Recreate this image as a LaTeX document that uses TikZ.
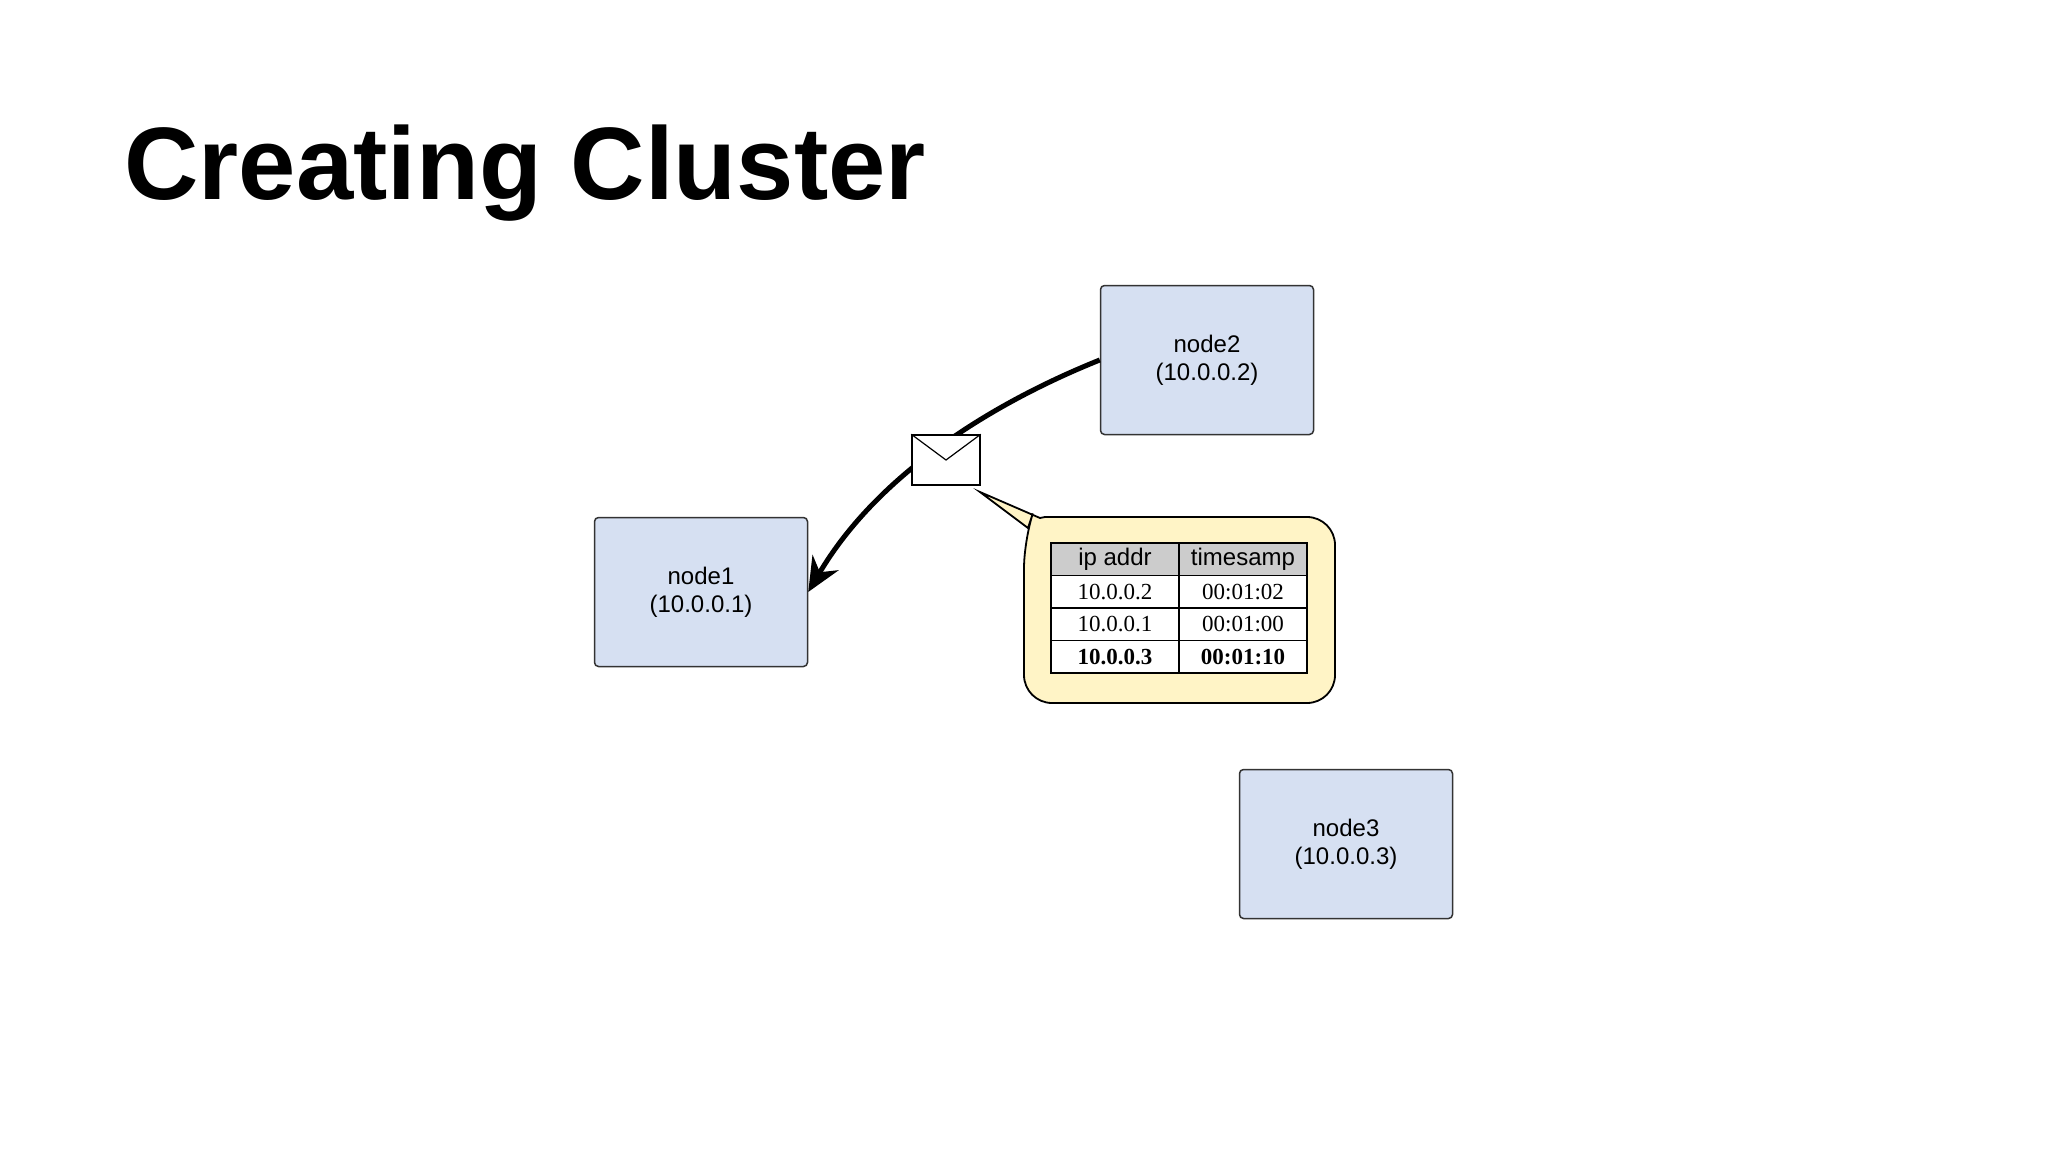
\documentclass[tikz,border=0pt]{standalone}
\usepackage{fontspec}
\setmainfont{Liberation Sans}
\newfontfamily\serifcell{Liberation Serif}
\usetikzlibrary{matrix, arrows.meta}
\definecolor{boxblue}{HTML}{D6E0F2}
\definecolor{notefill}{HTML}{FFF4C6}
\definecolor{headgray}{HTML}{CCCCCC}
\begin{document}
\begin{tikzpicture}[x=1pt, y=-1pt,
  host/.style = {draw=black!80, fill=boxblue, rounded corners=4pt, line width=1.5pt,
    minimum width=213pt, minimum height=149pt, align=center,
    font=\fontsize{24}{28}\selectfont},
  cell/.style = {draw, line width=1.5pt, minimum width=128pt, minimum height=32.5pt,
    inner sep=0pt, anchor=center}]
\useasboundingbox (0,0) rectangle (2048,1152);
\node[anchor=base west, font=\fontsize{103}{110}\selectfont\bfseries] (title) at (121,199) {Creating Cluster};

\node[host] (n1) at (701,592) {node1\\(10.0.0.1)};
\node[host] (n2) at (1207,360) {node2\\(10.0.0.2)};
\node[host] (n3) at (1346,844) {node3\\(10.0.0.3)};

% message in transit
\draw[line width=5pt, -{Stealth[length=34pt, width=30pt]}] (n2.west) .. controls (1000,400) and (880,470) .. (n1.east);
\node[draw, fill=white, line width=1.5pt, minimum width=68pt, minimum height=50pt, inner sep=0pt] (env) at (946,460) {};
\draw[line width=1.2pt] (env.north west) -- (env.center) -- (env.north east);

% membership table
\draw[line width=1.8pt, fill=notefill, rounded corners=28pt]
  (1045,517) -- (1335,517) -- (1335,703) -- (1024,703) -- (1024,540) [sharp corners] -- (1028,528) -- (980,492) -- (1040,518) -- cycle;
\matrix (tab) [matrix of nodes, nodes={cell}, column sep=-1.5pt, row sep=-1.5pt] at (1179,608) {
  |[fill=headgray, font=\fontsize{24}{26}\selectfont]| ip addr & |[fill=headgray, font=\fontsize{24}{26}\selectfont]| timesamp \\
  |[fill=white, font=\serifcell\fontsize{23}{24}\selectfont]| 10.0.0.2 & |[fill=white, font=\serifcell\fontsize{23}{24}\selectfont]| 00:01:02 \\
  |[fill=white, font=\serifcell\fontsize{23}{24}\selectfont]| 10.0.0.1 & |[fill=white, font=\serifcell\fontsize{23}{24}\selectfont]| 00:01:00 \\
  |[fill=white, font=\serifcell\bfseries\fontsize{23}{24}\selectfont]| 10.0.0.3 & |[fill=white, font=\serifcell\bfseries\fontsize{23}{24}\selectfont]| 00:01:10 \\
};
\end{tikzpicture}
\end{document}
